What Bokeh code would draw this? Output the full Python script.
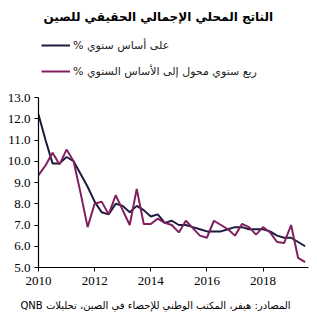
from bokeh.plotting import figure
from bokeh.models import Range1d, Legend, LegendItem, Label, Title, FixedTicker, CustomJSTickFormatter
from bokeh.embed import file_html
from bokeh.resources import INLINE

title_text = "الناتج المحلي الإجمالي الحقيقي للصين"
series_names = ["% على أساس سنوي", "% ربع سنوي محول إلى الأساس السنوي"]
source_text = "QNB المصادر: هيفر، المكتب الوطني للإحصاء في الصين، تحليلات"

quarters = [
    "2010Q1", "2010Q2", "2010Q3", "2010Q4",
    "2011Q1", "2011Q2", "2011Q3", "2011Q4",
    "2012Q1", "2012Q2", "2012Q3", "2012Q4",
    "2013Q1", "2013Q2", "2013Q3", "2013Q4",
    "2014Q1", "2014Q2", "2014Q3", "2014Q4",
    "2015Q1", "2015Q2", "2015Q3", "2015Q4",
    "2016Q1", "2016Q2", "2016Q3", "2016Q4",
    "2017Q1", "2017Q2", "2017Q3", "2017Q4",
    "2018Q1", "2018Q2", "2018Q3", "2018Q4",
    "2019Q1", "2019Q2", "2019Q3",
]
yoy = [12.2, 11.0, 9.9, 9.9, 10.2, 10.0, 9.4, 8.8, 8.1, 7.6, 7.5, 8.0,
       7.9, 7.6, 7.9, 7.7, 7.4, 7.5, 7.1, 7.2, 7.0, 7.0, 6.9, 6.8,
       6.7, 6.7, 6.7, 6.8, 6.9, 6.9, 6.8, 6.8, 6.8, 6.7, 6.5, 6.4,
       6.4, 6.2, 6.0]
qoq_saar = [9.35, 9.8, 10.4, 9.85, 10.55, 10.0, 8.5, 6.9, 8.0, 8.1, 7.5, 8.4,
            7.7, 7.0, 8.7, 7.05, 7.05, 7.3, 7.1, 7.0, 6.65, 7.2, 6.85, 6.5,
            6.4, 7.2, 7.0, 6.8, 6.5, 7.05, 6.9, 6.55, 6.9, 6.65, 6.2, 6.15,
            7.0, 5.45, 5.25]
x_ticks = [2010, 2012, 2014, 2016, 2018]
y_ticks = [5, 6, 7, 8, 9, 10, 11, 12, 13]

x = [int(q[:4]) + (int(q[5]) - 1) / 4 for q in quarters]

NAVY = "#1c1b3e"
PURPLE = "#80205f"
AR_FONT = "DejaVu Sans"

# frame spans from the canvas top down to the x axis; the y axis is bounded to 5..13
PX_PER_YEAR = 270 / 9.62
PX_PER_UNIT = 21.25
Y_TOP = 13 + 97 / PX_PER_UNIT
p = figure(width=317, height=321, output_backend="svg", toolbar_location=None,
           title=None,
           x_range=Range1d(2010, 2019.62), y_range=Range1d(5, Y_TOP),
           min_border_left=38, min_border_right=9, min_border_top=0,
           min_border_bottom=54)
p.outline_line_color = None
p.xgrid.visible = False
p.ygrid.visible = False
p.background_fill_color = "white"
p.border_fill_color = "white"

r1 = p.line(x, yoy, line_color=NAVY, line_width=2)
r2 = p.line(x, qoq_saar, line_color=PURPLE, line_width=2)

for ax in (p.xaxis[0], p.yaxis[0]):
    ax.axis_line_color = "black"
    ax.axis_line_width = 1.2
    ax.major_tick_line_color = "black"
    ax.major_tick_in = 0
    ax.major_tick_out = 4
    ax.minor_tick_line_color = None
    ax.major_label_text_font = "Liberation Serif"
    ax.major_label_text_font_size = "13px"
    ax.major_label_text_color = "black"

p.xaxis[0].ticker = FixedTicker(ticks=x_ticks)
p.yaxis[0].ticker = FixedTicker(ticks=y_ticks)
p.yaxis[0].bounds = (5, 13)
p.yaxis[0].formatter = CustomJSTickFormatter(code="return tick.toFixed(1);")
p.xaxis[0].major_label_standoff = 5
p.yaxis[0].major_label_standoff = 4

legend = Legend(items=[LegendItem(label=series_names[0], renderers=[r1]),
                       LegendItem(label=series_names[1], renderers=[r2])],
                location=(3, 186), orientation="vertical",
                glyph_width=29, glyph_height=20, label_height=20, spacing=6,
                label_standoff=3, padding=0, margin=0,
                border_line_color=None, background_fill_alpha=0,
                label_text_font=AR_FONT, label_text_font_size="11px",
                label_text_color="#222222")
p.add_layout(legend, "center")

p.add_layout(Label(x=2010 + (43 - 38) / PX_PER_YEAR, y=13 + (97 - 16) / PX_PER_UNIT,
                   text=title_text,
                   text_align="left", text_baseline="middle",
                   text_font=AR_FONT, text_font_style="bold",
                   text_font_size="12px", text_color="black"))

p.add_layout(Title(text=source_text, align="right", vertical_align="bottom",
                   text_font=AR_FONT, text_font_size="10px",
                   text_font_style="normal", text_color="black",
                   padding=5, offset=13), "below")

open("out.html", "w").write(file_html(p, INLINE))
